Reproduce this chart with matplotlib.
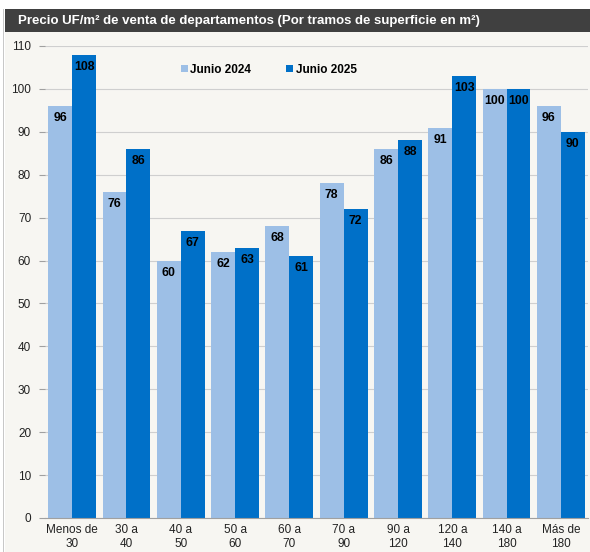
import matplotlib.pyplot as plt
import numpy as np
from matplotlib.patches import Rectangle

plt.rcParams['font.family'] = ['Liberation Sans', 'DejaVu Sans']

tramos = ["Menos de\n30", "30 a\n40", "40 a\n50", "50 a\n60", "60 a\n70",
          "70 a\n90", "90 a\n120", "120 a\n140", "140 a\n180", "Más de\n180"]
junio_2024 = [96, 76, 60, 62, 68, 78, 86, 91, 100, 96]
junio_2025 = [108, 86, 67, 63, 61, 72, 88, 103, 100, 90]
yticks = list(range(0, 111, 10))

c24 = "#9DBFE6"
c25 = "#0070C8"
panel_bg = "#F7F6F2"

fig = plt.figure(figsize=(5.9, 5.52), dpi=100)
fig.patch.set_facecolor("white")

# panel background and title bar
fig.patches.append(Rectangle((5 / 590, 0), 1, 1 - 9 / 552, transform=fig.transFigure,
                             facecolor=panel_bg, edgecolor="none", zorder=-2))
fig.patches.append(Rectangle((5 / 590, 1 - 32 / 552), 1, 23 / 552, transform=fig.transFigure,
                             facecolor="#404040", edgecolor="none", zorder=-1))
fig.patches.append(Rectangle((2.5 / 590, 0), 1.2 / 590, 1 - 9 / 552, transform=fig.transFigure,
                             facecolor="#C8C8C8", edgecolor="none", zorder=-1))
fig.text(18 / 590, 1 - 21 / 552,
         "Precio UF/m² de venta de departamentos (Por tramos de superficie en m²)",
         color="white", fontsize=9.5, fontweight="bold", va="center", ha="left")

ax = fig.add_axes([45 / 590, 34 / 552, 543 / 590, 472 / 552])
ax.set_facecolor(panel_bg)

x = np.arange(len(tramos))
w = 0.44
b24 = ax.bar(x - w / 2, junio_2024, w, color=c24, label="Junio 2024", zorder=2)
b25 = ax.bar(x + w / 2, junio_2025, w, color=c25, label="Junio 2025", zorder=2)

for bars, vals in ((b24, junio_2024), (b25, junio_2025)):
    for rect, v in zip(bars, vals):
        ax.text(rect.get_x() + rect.get_width() / 2, v - 1.4, str(v),
                ha="center", va="top", fontsize=8.8, fontweight="bold", color="black", zorder=3)

ax.set_xlim(-0.5, len(tramos) - 0.5)
ax.set_ylim(0, 110)
ax.set_yticks(yticks)
ax.set_xticks(x)
ax.set_xticklabels(tramos, fontsize=8.5, color="#222222", linespacing=1.25)
ax.tick_params(axis="y", labelsize=8.5, colors="#222222", length=4, color="#A0A0A0", pad=6)
ax.tick_params(axis="x", length=0, pad=4)
ax.grid(axis="y", color="#CFCFCF", linewidth=0.8, zorder=0)
for s in ("top", "right", "left"):
    ax.spines[s].set_visible(False)
ax.spines["bottom"].set_color("#A0A0A0")
ax.spines["bottom"].set_zorder(4)

leg = ax.legend(loc="upper left", bbox_to_anchor=(0.23, 0.985), ncol=2, frameon=False,
                prop={"weight": "bold", "size": 8.5}, handlelength=0.6, handleheight=0.6,
                handletextpad=0.2, columnspacing=3.0)

fig.savefig("out.png", dpi=100, facecolor=fig.get_facecolor())
